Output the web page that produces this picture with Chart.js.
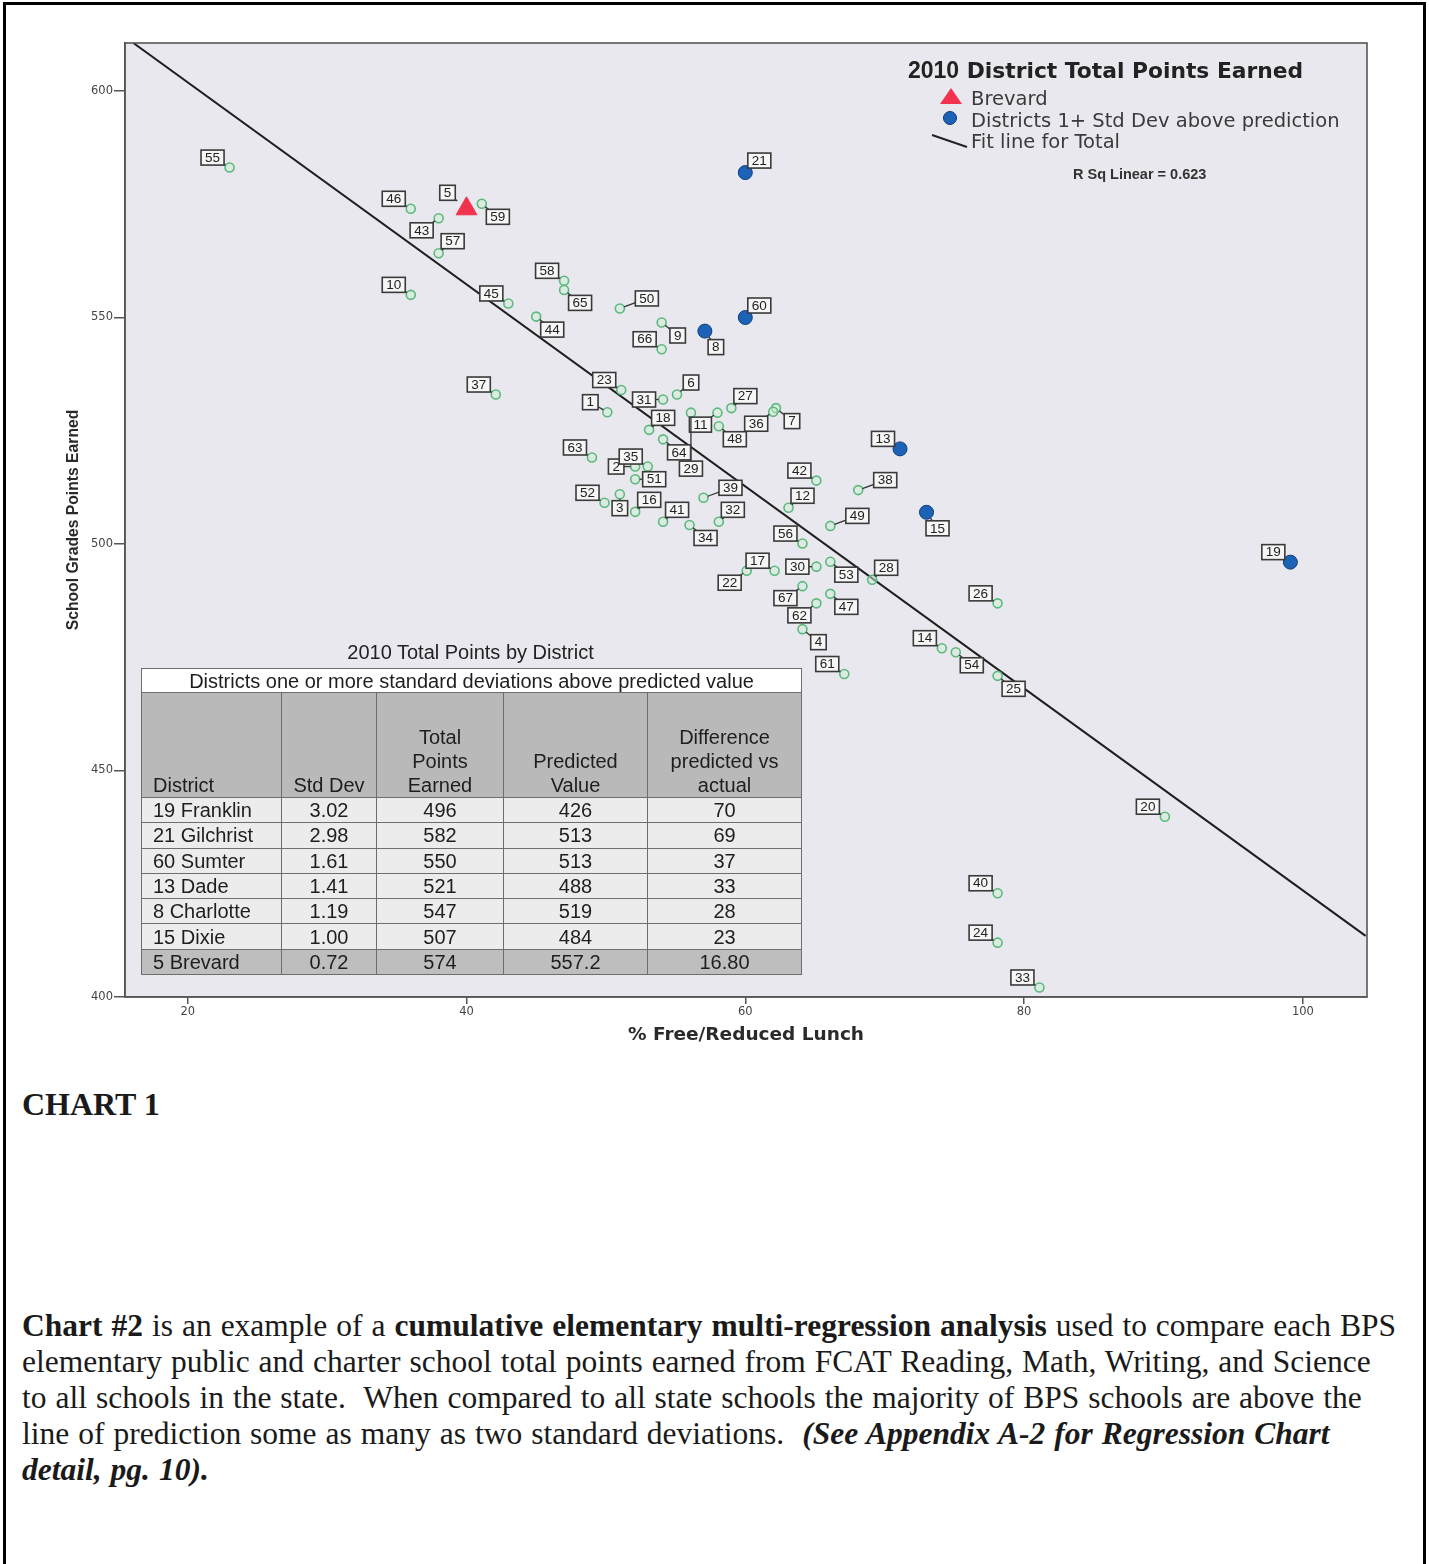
<!DOCTYPE html>
<html>
<head>
<meta charset="utf-8">
<script src="https://cdn.jsdelivr.net/npm/chart.js@4.4.1/dist/chart.umd.min.js"></script>
<style>
  body { margin: 0; background: #fff; width: 1429px; height: 1564px; position: relative; overflow: hidden;
         font-family: "Liberation Sans", Arial, sans-serif; color: #1a1a1a; }
  #frame { position: absolute; left: 3px; top: 2px; width: 1417px; height: 1600px; border: 3px solid #000; }
  #chartBox { position: absolute; left: 0; top: 0; width: 1429px; height: 1065px; }
  .lg { position: absolute; font-family: "DejaVu Sans", Verdana, sans-serif; font-size: 19.5px; color: #3a3a3a; line-height: 22px; white-space: nowrap; }
  #lgTitle { left: 908px; top: 57px; font-family: "DejaVu Sans", Verdana, sans-serif; font-weight: bold; font-size: 21.8px; color: #222; line-height: 26px; }
  #lgTitle span { font-family: "Liberation Sans", Arial, sans-serif; font-size: 23px; font-weight: bold; }
  #tri { position: absolute; left: 940px; top: 88px; width: 0; height: 0; border-left: 11px solid transparent;
         border-right: 11px solid transparent; border-bottom: 16px solid #f2334d; }
  #dot { position: absolute; left: 943px; top: 111px; width: 12px; height: 12px; border-radius: 50%; background: #1c63b7; border: 1px solid #0d3a78; }
  #fitMark { position: absolute; left: 931px; top: 140px; width: 37px; height: 2px; background: #222; transform: rotate(19deg); }
  #rsq { position: absolute; left: 1073px; top: 166px; font-size: 14.5px; font-weight: bold; color: #333; white-space: nowrap; }
  #tblTitle { position: absolute; left: 141px; width: 659px; top: 641px; text-align: center; font-size: 20px; line-height: 22px; color: #222; }
  #distTable { position: absolute; left: 141px; top: 668px; width: 660px; border-collapse: collapse; table-layout: fixed;
               font-size: 20px; color: #1e1e1e; }
  #distTable td, #distTable th { border: 1px solid #6e6e6e; padding: 0; text-align: center; font-weight: normal; overflow: hidden; white-space: nowrap; }
  #distTable .sub td { background: #fff; height: 23px; line-height: 22px; }
  #distTable .head th { background: #b9b9b9; height: 104px; vertical-align: bottom; line-height: 24px; white-space: normal; }
  #distTable .data td { background: #ececec; height: 24.3px; line-height: 24px; }
  #distTable .data.hl td { background: #bebebe; }
  #distTable .l { text-align: left; padding-left: 11px; }
  #chartCap { position: absolute; left: 22px; top: 1086px; font-family: "Liberation Serif", "Times New Roman", serif; font-weight: bold; font-size: 32px; line-height: 36px; }
  #para { position: absolute; left: 22px; top: 1308px; font-family: "Liberation Serif", "Times New Roman", serif; font-size: 31.5px; line-height: 36px; word-spacing: 1.1px; white-space: nowrap; }
</style>
</head>
<body>
<div id="frame"></div>
<div id="chartBox"><canvas id="scatter" width="1429" height="1065"></canvas></div>

<div id="lgTitle" class="lg"><span>2010</span> District Total Points Earned</div>
<div id="tri"></div>
<div class="lg" style="left:971px;top:88px;">Brevard</div>
<div id="dot"></div>
<div class="lg" style="left:971px;top:110px;">Districts 1+ Std Dev above prediction</div>
<div id="fitMark"></div>
<div class="lg" style="left:971px;top:131px;">Fit line for Total</div>
<div id="rsq">R Sq Linear = 0.623</div>

<div id="tblTitle">2010 Total Points by District</div>
<table id="distTable">
  <colgroup><col style="width:140px"><col style="width:95px"><col style="width:127px"><col style="width:144px"><col style="width:154px"></colgroup>
  <tbody id="tblBody">
    <tr class="sub"><td colspan="5">Districts one or more standard deviations above predicted value</td></tr>
    <tr class="head"><th class="l">District</th><th>Std Dev</th><th>Total<br>Points<br>Earned</th><th>Predicted<br>Value</th><th>Difference<br>predicted vs<br>actual</th></tr>
  </tbody>
</table>

<div id="chartCap">CHART 1</div>
<div id="para">
<b>Chart #2</b> is an example of a <b>cumulative elementary multi-regression analysis</b> used to compare each BPS<br>
elementary public and charter school total points earned from FCAT Reading, Math, Writing, and Science<br>
to all schools in the state.&nbsp; When compared to all state schools the majority of BPS schools are above the<br>
line of prediction some as many as two standard deviations.&nbsp; <b><i>(See Appendix A-2 for Regression Chart</i></b><br>
<b><i>detail, pg. 10).</i></b>
</div>

<script>
// district numbers with % free/reduced lunch and total points earned
const districtIds = [1, 2, 3, 4, 5, 6, 7, 8, 9, 10,
    11, 12, 13, 14, 15, 16, 17, 18, 19, 20,
    21, 22, 23, 24, 25, 26, 27, 28, 29, 30,
    31, 32, 33, 34, 35, 36, 37, 38, 39, 40,
    41, 42, 43, 44, 45, 46, 47, 48, 49, 50,
    51, 52, 53, 54, 55, 56, 57, 58, 59, 60,
    61, 62, 63, 64, 65, 66, 67];
const pctLunch = [50.1, 52.1, 51.0, 64.1, 40.0, 55.1, 62.2, 57.1, 54.0, 36.0,
    58.0, 63.1, 71.1, 74.1, 73.0, 52.1, 62.1, 53.1, 99.1, 90.1,
    60.0, 60.1, 51.1, 78.1, 78.1, 78.1, 59.0, 69.1, 56.1, 65.1,
    54.1, 58.1, 81.1, 56.0, 53.0, 62.0, 42.1, 68.1, 57.0, 78.1,
    54.1, 65.1, 38.0, 45.0, 43.0, 36.0, 66.1, 58.1, 66.1, 51.0,
    52.1, 49.9, 66.1, 75.1, 23.0, 64.1, 38.0, 47.0, 41.1, 60.0,
    67.1, 65.1, 49.0, 54.1, 47.0, 54.0, 64.1];
const totalPoints = [529.1, 517.1, 511.0, 481.2, 574.0, 533.0, 530.0, 547.0, 548.9, 555.0,
    529.0, 508.0, 521.0, 477.0, 507.0, 507.1, 494.1, 525.2, 496.0, 439.8,
    582.0, 494.1, 534.0, 412.0, 470.9, 486.9, 530.0, 492.1, 529.0, 495.0,
    531.9, 504.9, 402.1, 504.2, 517.1, 529.2, 533.0, 511.9, 510.2, 422.9,
    504.9, 514.0, 571.9, 550.2, 553.1, 574.0, 489.0, 526.0, 504.0, 552.0,
    514.3, 509.1, 496.1, 476.1, 583.1, 500.1, 564.2, 558.1, 575.1, 550.0,
    471.3, 486.9, 519.1, 523.1, 556.1, 543.0, 490.7];
// where each number tag sits around its point
const labelSide = ["nw", "w", "s", "se", "nw2", "ne", "se", "sse", "se", "nw",
    "sw", "ne", "nw", "nw", "sse", "ne", "nw", "ne", "nw", "nw",
    "ne", "sw", "nw", "nw", "se", "nw", "ne", "ne", "sfar", "w",
    "w", "ne", "nw", "se", "nw", "sw", "nw", "ene", "ene", "nw",
    "ne", "nw", "sw", "se", "nw", "nw", "se", "se", "ene", "ene",
    "e", "nw", "se", "se", "nw", "nw", "ne", "nw", "se", "ne",
    "nw", "sw", "nw", "se", "se", "nw", "sw"];

const aboveIds = [19, 21, 60, 13, 8, 15];
const brevardId = 5;

// fit line end points (R Sq Linear = 0.623)
const fitX = [16.1, 104.5];
const fitY = [610.6, 413.5];

const xTicks = [20, 40, 60, 80, 100];
const yTicks = [400, 450, 500, 550, 600];

// inset table
const tableDistrict = ["19 Franklin", "21 Gilchrist", "60 Sumter", "13 Dade", "8 Charlotte", "15 Dixie", "5 Brevard"];
const tableStdDev = ["3.02", "2.98", "1.61", "1.41", "1.19", "1.00", "0.72"];
const tableTotal = ["496", "582", "550", "521", "547", "507", "574"];
const tablePredicted = ["426", "513", "513", "488", "519", "484", "557.2"];
const tableDiff = ["70", "69", "37", "33", "28", "23", "16.80"];

const tbody = document.getElementById("tblBody");
tableDistrict.forEach((name, i) => {
    const tr = document.createElement("tr");
    tr.className = i === tableDistrict.length - 1 ? "data hl" : "data";
    [name, tableStdDev[i], tableTotal[i], tablePredicted[i], tableDiff[i]].forEach((v, k) => {
        const td = document.createElement("td");
        td.textContent = v;
        if (k === 0) td.className = "l";
        tr.appendChild(td);
    });
    tbody.appendChild(tr);
});

const pts = districtIds.map((id, i) => ({ x: pctLunch[i], y: totalPoints[i], id: id, side: labelSide[i] }));
const greenPts = pts.filter((p) => !aboveIds.includes(p.id) && p.id !== brevardId);
const bluePts = pts.filter((p) => aboveIds.includes(p.id));
const redPts = pts.filter((p) => p.id === brevardId);

const tagOffset = {
    nw: [-17, -10], nw2: [-19, -16], ne: [14, -12], se: [16, 13], sw: [-17, 12],
    sse: [11, 16], s: [0, 14], sfar: [0, 56], e: [19, 0], w: [-19, 0], ene: [27, -10],
};

const plotFrame = {
    id: "plotFrame",
    beforeDraw(chart) {
        const { ctx, chartArea: a } = chart;
        ctx.save();
        ctx.fillStyle = "#e9e8ef";
        ctx.fillRect(a.left, a.top, a.right - a.left, a.bottom - a.top);
        ctx.restore();
    },
    afterDraw(chart) {
        const { ctx, chartArea: a } = chart;
        ctx.save();
        ctx.strokeStyle = "#555";
        ctx.lineWidth = 1.6;
        ctx.strokeRect(a.left, a.top, a.right - a.left, a.bottom - a.top);
        ctx.restore();
    },
};

const numberTags = {
    id: "numberTags",
    afterDatasetsDraw(chart) {
        const ctx = chart.ctx;
        ctx.save();
        ctx.font = '13.5px "Liberation Sans", Arial, sans-serif';
        ctx.textAlign = "center";
        ctx.textBaseline = "middle";
        [0, 1, 2].forEach((di) => {
            const ds = chart.data.datasets[di];
            const meta = chart.getDatasetMeta(di);
            const r = ds.pointRadius;
            meta.data.forEach((el, j) => {
                const p = ds.data[j];
                const [dx, dy] = tagOffset[p.side];
                const bx = el.x + dx, by = el.y + dy;
                const t = String(p.id);
                const w = ctx.measureText(t).width + 8, h = 15;
                const len = Math.hypot(dx, dy);
                ctx.strokeStyle = "#333";
                ctx.lineWidth = 1.3;
                ctx.beginPath();
                ctx.moveTo(el.x + (dx / len) * r, el.y + (dy / len) * r);
                ctx.lineTo(bx, by);
                ctx.stroke();
                ctx.fillStyle = "#f6f6f6";
                ctx.fillRect(bx - w / 2, by - h / 2, w, h);
                ctx.strokeStyle = "#3a3a3a";
                ctx.lineWidth = 1.6;
                ctx.strokeRect(bx - w / 2, by - h / 2, w, h);
                ctx.fillStyle = "#222";
                ctx.fillText(t, bx, by + 0.5);
            });
        });
        ctx.restore();
    },
};

new Chart(document.getElementById("scatter"), {
    type: "scatter",
    data: {
        datasets: [
            {
                label: "Districts",
                data: greenPts,
                pointStyle: "circle",
                pointRadius: 4.5,
                borderColor: "#5cb97c",
                backgroundColor: "rgba(205,235,214,0.5)",
                borderWidth: 1.6,
                order: 3,
            },
            {
                label: "Districts 1+ Std Dev above prediction",
                data: bluePts,
                pointStyle: "circle",
                pointRadius: 7,
                backgroundColor: "#1c63b7",
                borderColor: "#0e3d7a",
                borderWidth: 1,
                order: 2,
            },
            {
                label: "Brevard",
                data: redPts,
                pointStyle: "triangle",
                pointRadius: 12,
                backgroundColor: "#f2334d",
                borderColor: "#f2334d",
                borderWidth: 1,
                order: 1,
            },
            {
                type: "line",
                label: "Fit line for Total",
                data: fitX.map((x, i) => ({ x: x, y: fitY[i] })),
                borderColor: "#1e1e1e",
                borderWidth: 2,
                pointRadius: 0,
                fill: false,
                order: 10,
            },
        ],
    },
    options: {
        responsive: false,
        animation: false,
        layout: { padding: { left: 0, top: 43, right: 62, bottom: 0 } },
        plugins: {
            legend: { display: false },
            tooltip: { enabled: false },
        },
        scales: {
            x: {
                type: "linear",
                min: 15.5,
                max: 104.6,
                afterBuildTicks: (s) => { s.ticks = xTicks.map((v) => ({ value: v })); },
                afterFit: (s) => { s.height = 68; },
                grid: { drawOnChartArea: false, tickLength: 7, color: "#555", lineWidth: 1.5 },
                border: { color: "#555", width: 1.6 },
                ticks: { padding: 1, color: "#444", font: { family: "DejaVu Sans", size: 11.5 } },
                title: {
                    display: true,
                    text: "% Free/Reduced Lunch",
                    color: "#2a2a2a",
                    font: { family: "DejaVu Sans", size: 18.5, weight: "bold" },
                    padding: { top: 0, bottom: 19 },
                },
            },
            y: {
                type: "linear",
                min: 400,
                max: 610.6,
                afterBuildTicks: (s) => { s.ticks = yTicks.map((v) => ({ value: v })); },
                afterFit: (s) => { s.width = 125; },
                grid: { drawOnChartArea: false, tickLength: 11, color: "#555", lineWidth: 1.5 },
                border: { color: "#555", width: 1.6 },
                ticks: { padding: 1, color: "#444", font: { family: "DejaVu Sans", size: 11.5 } },
                title: {
                    display: true,
                    text: "School Grades Points Earned",
                    color: "#2a2a2a",
                    font: { family: "Liberation Sans", size: 15.7, weight: "bold" },
                    padding: { top: 64, bottom: 0 },
                },
            },
        },
    },
    plugins: [plotFrame, numberTags],
});
</script>
</body>
</html>
